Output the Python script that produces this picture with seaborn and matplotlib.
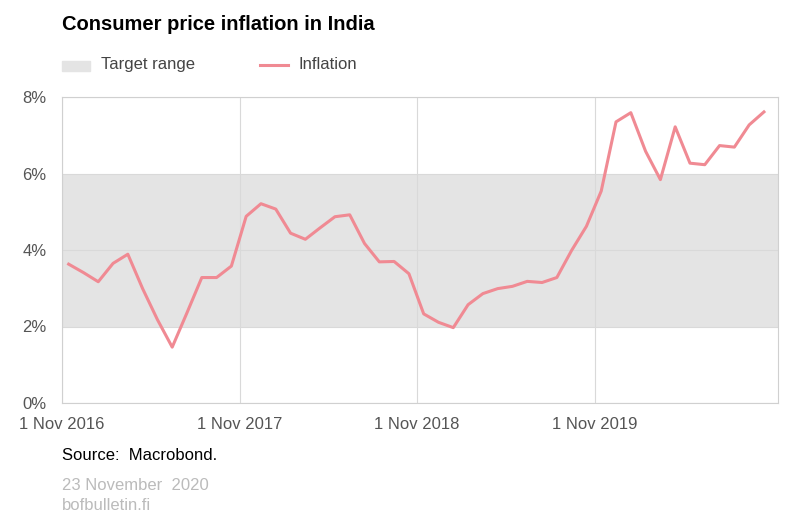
import matplotlib
matplotlib.use("Agg")
import matplotlib.pyplot as plt
import seaborn as sns
import pandas as pd
import numpy as np

inflation = [3.63,3.41,3.17,3.65,3.89,2.99,2.18,1.46,2.36,3.28,3.28,3.58,
             4.88,5.21,5.07,4.44,4.28,4.58,4.87,4.92,4.17,3.69,3.70,3.38,
             2.33,2.11,1.97,2.57,2.86,2.99,3.05,3.18,3.15,3.28,3.99,4.62,
             5.54,7.35,7.59,6.58,5.84,7.22,6.27,6.23,6.73,6.69,7.27,7.61]
target_low, target_high = 2, 6
tick_labels = ["1 Nov 2016", "1 Nov 2017", "1 Nov 2018", "1 Nov 2019"]
y_ticks = [0, 2, 4, 6, 8]

# monthly observations dated mid-month (months since 1 Nov 2016)
df = pd.DataFrame({"month": np.arange(len(inflation)) + 0.45, "inflation": inflation})

plt.rcParams["font.family"] = "Liberation Sans"
fig = plt.figure(figsize=(8, 5.22), dpi=100)
ax = fig.add_axes([62/800, 1-403/522, (778-62)/800, (403-97)/522])
ax.axhspan(target_low, target_high, color="#e4e4e4", zorder=0, lw=0)
sns.lineplot(data=df, x="month", y="inflation", ax=ax, color="#f08a93", lw=2.2, zorder=3)
ax.set_xlim(0, 48.4)
ax.set_ylim(0, 8)
ax.set_xticks([0, 12, 24, 36])
ax.set_xticklabels(tick_labels)
ax.set_yticks(y_ticks)
ax.set_yticklabels([f"{v}%" for v in y_ticks])
ax.grid(True, color="#d9d9d9", lw=0.8, zorder=1)
ax.set_axisbelow(True)
for s in ax.spines.values():
    s.set_color("#d0d0d0")
ax.tick_params(axis="both", labelsize=12, colors="#555555", length=0)
ax.tick_params(axis="x", pad=10)
ax.tick_params(axis="y", pad=11)
ax.set_xlabel(""); ax.set_ylabel("")

fig.text(62/800, 1-25/522, "Consumer price inflation in India", fontsize=14.5, fontweight="bold", va="center")
fig.patches.append(plt.Rectangle((62/800, 1-71/522), 28/800, 10/522, transform=fig.transFigure, color="#e4e4e4"))
fig.text(101/800, 1-65/522, "Target range", fontsize=12, color="#444444", va="center")
fig.lines.append(plt.Line2D([260/800, 288/800], [1-65/522]*2, transform=fig.transFigure, color="#f08a93", lw=2.2))
fig.text(298/800, 1-65/522, "Inflation", fontsize=12, color="#444444", va="center")
fig.text(62/800, 1-456/522, "Source:  Macrobond.", fontsize=12, va="center")
fig.text(62/800, 1-485/522, "23 November  2020", fontsize=12, color="#bbbbbb", va="center")
fig.text(62/800, 1-505/522, "bofbulletin.fi", fontsize=12, color="#bbbbbb", va="center")
fig.savefig("out.png", dpi=100)
